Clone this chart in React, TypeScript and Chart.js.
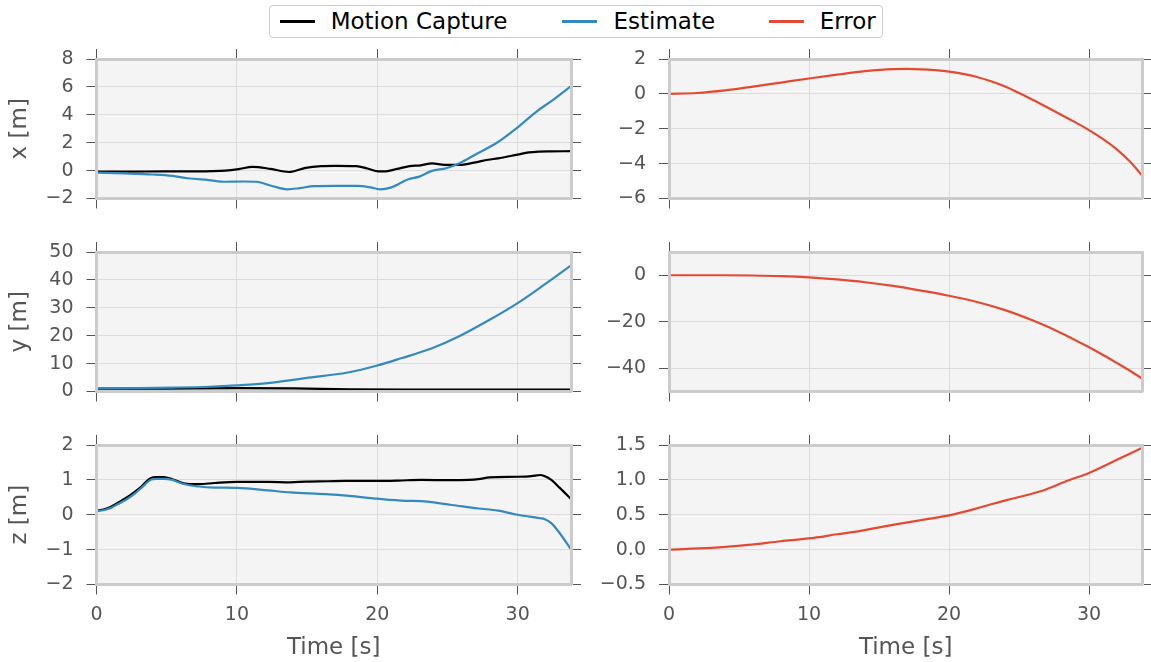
import React, { useEffect, useRef } from 'react';
import { Chart, registerables } from 'chart.js';

Chart.register(...registerables);

const FONT = "'DejaVu Sans', 'Liberation Sans', sans-serif";

// ---- time axis ----
const TIME_MIN = 0;
const TIME_MAX = 33.8;
const timeTicks = [0, 10, 20, 30];

// ---- x position ----
const xMocapT = [0, 2, 5, 7, 9.2, 10.2, 11.1, 12.4, 13.7, 14.9, 16, 17, 18.5, 19.3, 20.1, 20.6, 21.4, 22.3, 23.1, 23.9, 24.8, 25.8, 26.9, 27.9, 28.6, 30, 30.8, 31.5, 32.3, 33.8];
const xMocap = [-0.07, -0.08, -0.05, -0.05, 0.0, 0.12, 0.27, 0.12, -0.1, 0.2, 0.32, 0.34, 0.32, 0.15, -0.05, -0.05, 0.12, 0.32, 0.38, 0.52, 0.41, 0.41, 0.57, 0.78, 0.88, 1.15, 1.3, 1.36, 1.38, 1.39];
const xEstT = [0, 2, 4, 5.4, 6.5, 8, 9.2, 10.5, 11.4, 12.5, 13.6, 14.5, 15.5, 17, 18.5, 19.5, 20.2, 21, 22.2, 23, 23.9, 24.9, 25.9, 26.9, 28.6, 30, 31.3, 32.5, 33.8];
const xEst = [-0.14, -0.2, -0.28, -0.38, -0.55, -0.68, -0.8, -0.78, -0.8, -1.1, -1.34, -1.25, -1.12, -1.1, -1.1, -1.2, -1.34, -1.2, -0.62, -0.43, -0.02, 0.17, 0.55, 1.1, 2.05, 3.1, 4.2, 5.05, 6.05];
const xErrT = [0, 2, 4, 6, 8, 10, 12, 14, 16, 17, 18, 19, 20, 21, 22, 23, 24, 25, 26, 27, 28, 29, 30, 31, 32, 33, 33.8];
const xErr = [0, 0.05, 0.2, 0.42, 0.65, 0.88, 1.1, 1.3, 1.42, 1.43, 1.41, 1.36, 1.28, 1.15, 0.97, 0.72, 0.42, 0.05, -0.35, -0.77, -1.2, -1.62, -2.08, -2.6, -3.2, -3.95, -4.7];
const xPosTicks = [-2, 0, 2, 4, 6, 8];
const xErrTicks = [-6, -4, -2, 0, 2];

// ---- y position ----
const yMocapT = [0, 5, 10, 14, 18, 22, 33.8];
const yMocap = [1.0, 1.05, 1.2, 1.1, 0.8, 0.7, 0.7];
const yEstT = [0, 3, 5.4, 8, 10, 12.2, 14.9, 17.9, 20, 21.7, 23.9, 25.8, 28, 30, 31.9, 33.8];
const yEst = [1.2, 1.25, 1.4, 1.7, 2.2, 3.0, 4.8, 6.8, 9.3, 11.9, 15.5, 19.7, 25.7, 31.7, 38.3, 45.2];
const yErrT = [0, 4, 6, 8, 10, 12, 14, 16, 18, 20, 22, 24, 26, 28, 30, 31, 32, 33, 33.8];
const yErr = [0, 0, -0.1, -0.35, -0.9, -1.8, -3.0, -4.6, -6.6, -8.8, -11.5, -15.0, -19.5, -24.8, -31.0, -34.3, -37.8, -41.4, -44.5];
const yPosTicks = [0, 10, 20, 30, 40, 50];
const yErrTicks = [-40, -20, 0];

// ---- z position ----
const zMocapT = [0, 0.5, 1, 1.5, 2.1, 2.7, 3.2, 3.85, 4.3, 4.8, 5.4, 5.8, 6.2, 6.7, 7.3, 8.4, 10, 12.2, 13.8, 14.9, 16.5, 17.7, 20, 21.5, 23.1, 25.3, 26.5, 27.2, 28, 30, 31, 31.6, 31.9, 32.4, 33, 33.8];
const zMocap = [0.12, 0.15, 0.22, 0.34, 0.48, 0.65, 0.81, 1.05, 1.08, 1.08, 1.02, 0.96, 0.9, 0.88, 0.88, 0.91, 0.94, 0.94, 0.93, 0.95, 0.96, 0.97, 0.97, 0.98, 1.0, 0.99, 1.0, 1.02, 1.07, 1.09, 1.11, 1.14, 1.11, 1.0, 0.77, 0.45];
const zEstT = [0, 0.5, 1, 1.5, 2.1, 2.7, 3.2, 3.85, 4.3, 4.8, 5.4, 5.8, 6.2, 7.3, 8.4, 10, 12.2, 13.8, 16.3, 18, 20, 22, 23.1, 25.3, 27.2, 28.6, 30, 31.6, 31.9, 32.4, 33, 33.8];
const zEst = [0.1, 0.13, 0.19, 0.3, 0.43, 0.6, 0.77, 1.0, 1.03, 1.03, 1.0, 0.94, 0.88, 0.81, 0.78, 0.77, 0.7, 0.64, 0.59, 0.54, 0.46, 0.4, 0.39, 0.28, 0.18, 0.12, 0.0, -0.1, -0.12, -0.24, -0.53, -0.99];
const zErrT = [0, 3, 5.65, 8, 10, 12, 13.7, 16.4, 18.5, 20, 21.8, 23, 24.5, 26.6, 28.5, 30, 31.8, 33.8];
const zErr = [0, 0.024, 0.067, 0.12, 0.16, 0.22, 0.27, 0.37, 0.44, 0.49, 0.58, 0.65, 0.73, 0.84, 0.99, 1.1, 1.27, 1.46];
const zPosTicks = [-2, -1, 0, 1, 2];
const zErrTicks = [-0.5, 0, 0.5, 1, 1.5];

// ---- legend ----
const legendLabels = ['Motion Capture', 'Estimate', 'Error'];

const C_MOCAP = '#000000';
const C_EST = '#348ABD';
const C_ERR = '#E24A33';
const legendColors = [C_MOCAP, C_EST, C_ERR];

type Series = { t: number[]; v: number[]; color: string; order: number };
type Panel = {
  row: number;
  col: number;
  yLabel?: string;
  yMin: number;
  yMax: number;
  yTicks: number[];
  dec: number;
  series: Series[];
};

const panels: Panel[] = [
  { row: 0, col: 0, yLabel: 'x [m]', yMin: -2, yMax: 8, yTicks: xPosTicks, dec: 0,
    series: [{ t: xMocapT, v: xMocap, color: C_MOCAP, order: 1 }, { t: xEstT, v: xEst, color: C_EST, order: 0 }] },
  { row: 0, col: 1, yMin: -6, yMax: 2, yTicks: xErrTicks, dec: 0,
    series: [{ t: xErrT, v: xErr, color: C_ERR, order: 0 }] },
  { row: 1, col: 0, yLabel: 'y [m]', yMin: 0, yMax: 50, yTicks: yPosTicks, dec: 0,
    series: [{ t: yMocapT, v: yMocap, color: C_MOCAP, order: 1 }, { t: yEstT, v: yEst, color: C_EST, order: 0 }] },
  { row: 1, col: 1, yMin: -50, yMax: 10, yTicks: yErrTicks, dec: 0,
    series: [{ t: yErrT, v: yErr, color: C_ERR, order: 0 }] },
  { row: 2, col: 0, yLabel: 'z [m]', yMin: -2, yMax: 2, yTicks: zPosTicks, dec: 0,
    series: [{ t: zMocapT, v: zMocap, color: C_MOCAP, order: 1 }, { t: zEstT, v: zEst, color: C_EST, order: 0 }] },
  { row: 2, col: 1, yMin: -0.5, yMax: 1.5, yTicks: zErrTicks, dec: 1,
    series: [{ t: zErrT, v: zErr, color: C_ERR, order: 0 }] },
];

// layout geometry
const colGeo = [
  { left: 0, width: 600, yW: 96.5, y2W: 12, padR: 17 },
  { left: 600, width: 551, yW: 69, y2W: 8.7, padR: 0 },
];
const rowGeo = [
  { top: 39, height: 180, x2H: 20, xH: 20.5, labels: false },
  { top: 232, height: 180, x2H: 20, xH: 20.5, labels: false },
  { top: 425, height: 237, x2H: 20, xH: 77.5, labels: true },
];

const TICK_FONT = { family: FONT, size: 19 };
const LABEL_FONT = { family: FONT, size: 23 };
const TEXT_COLOR = '#555555';

const fmt = (v: number, d: number) => (v < 0 ? '\u2212' : '') + Math.abs(v).toFixed(d);
const setTicks = (vals: number[]) => (scale: any) => {
  scale.ticks = vals.map((v) => ({ value: v }));
};
const fixSize = (dim: 'width' | 'height', size: number) => (s: any) => {
  s[dim] = size;
  s.paddingTop = 0;
  s.paddingBottom = 0;
  s.paddingLeft = 0;
  s.paddingRight = 0;
};

const gridBase = {
  color: '#dcdcdc',
  lineWidth: 1,
  tickColor: '#555555',
  tickLength: 10,
  tickWidth: 1,
  drawTicks: true,
};
const borderBase = { display: true, color: '#cccccc', width: 3, z: 1 };

const plotBg = {
  id: 'plotBg',
  beforeDraw(chart: any) {
    const { ctx, chartArea: a } = chart;
    if (!a) return;
    ctx.save();
    ctx.fillStyle = '#f4f4f4';
    ctx.fillRect(a.left, a.top, a.right - a.left, a.bottom - a.top);
    ctx.restore();
  },
};

function PanelChart({ p }: { p: Panel }) {
  const ref = useRef<HTMLCanvasElement>(null);
  const cg = colGeo[p.col];
  const rg = rowGeo[p.row];

  useEffect(() => {
    if (!ref.current) return;
    const chart = new Chart(ref.current, {
      type: 'line',
      data: {
        datasets: p.series.map((s) => ({
          data: s.t.map((t, i) => ({ x: t, y: s.v[i] })),
          borderColor: s.color,
          backgroundColor: s.color,
          borderWidth: 2.2,
          pointRadius: 0,
          pointHoverRadius: 0,
          pointHitRadius: 0,
          fill: false,
          cubicInterpolationMode: 'monotone' as const,
          order: s.order,
          xAxisID: 'x',
          yAxisID: 'y',
        })),
      },
      options: {
        animation: false,
        responsive: false,
        devicePixelRatio: 1,
        events: [],
        layout: { autoPadding: false, padding: { left: 0, right: cg.padR, top: 0, bottom: 0 } },
        plugins: { legend: { display: false }, tooltip: { enabled: false } },
        scales: {
          x: {
            type: 'linear',
            position: 'bottom',
            min: TIME_MIN,
            max: TIME_MAX,
            afterBuildTicks: setTicks(timeTicks),
            afterFit: fixSize('height', rg.xH),
            ticks: {
              display: rg.labels,
              autoSkip: false,
              maxRotation: 0,
              font: TICK_FONT,
              color: TEXT_COLOR,
              padding: 9,
              callback: (v: any) => fmt(Number(v), 0),
            },
            grid: gridBase,
            border: borderBase,
            title: {
              display: rg.labels,
              text: 'Time [s]',
              font: LABEL_FONT,
              color: TEXT_COLOR,
              padding: { top: 0, bottom: 0 },
            },
          },
          x2: {
            type: 'linear',
            position: 'top',
            min: TIME_MIN,
            max: TIME_MAX,
            afterBuildTicks: setTicks(timeTicks),
            afterFit: fixSize('height', rg.x2H),
            ticks: { display: false },
            grid: { ...gridBase, drawOnChartArea: false },
            border: borderBase,
          },
          y: {
            type: 'linear',
            position: 'left',
            min: p.yMin,
            max: p.yMax,
            afterBuildTicks: setTicks(p.yTicks),
            afterFit: fixSize('width', cg.yW),
            ticks: {
              autoSkip: false,
              font: TICK_FONT,
              color: TEXT_COLOR,
              padding: 13,
              callback: (v: any) => fmt(Number(v), p.dec),
            },
            grid: gridBase,
            border: borderBase,
            title: {
              display: !!p.yLabel,
              text: p.yLabel || '',
              font: LABEL_FONT,
              color: TEXT_COLOR,
              padding: { top: 6.4, bottom: 0 },
            },
          },
          y2: {
            type: 'linear',
            position: 'right',
            min: p.yMin,
            max: p.yMax,
            afterBuildTicks: setTicks(p.yTicks),
            afterFit: fixSize('width', cg.y2W),
            ticks: { display: false },
            grid: { ...gridBase, drawOnChartArea: false },
            border: borderBase,
          },
        },
      } as any,
      plugins: [plotBg],
    });
    return () => chart.destroy();
  }, []);

  return (
    <canvas
      ref={ref}
      width={cg.width}
      height={rg.height}
      style={{ position: 'absolute', left: cg.left, top: rg.top, width: cg.width, height: rg.height }}
    />
  );
}

const legendLinePos = [280, 562, 769];
const legendTextPos = [330.7, 613.5, 819.7];

function Legend() {
  return (
    <div>
      <div
        style={{
          position: 'absolute',
          left: 269,
          top: 5,
          width: 614,
          height: 33,
          boxSizing: 'border-box',
          border: '1.5px solid #cccccc',
          borderRadius: 4,
          background: '#ffffff',
        }}
      />
      {legendLabels.map((lab, i) => (
        <React.Fragment key={lab}>
          <div
            style={{
              position: 'absolute',
              left: legendLinePos[i],
              top: 20,
              width: 35,
              height: 2.5,
              background: legendColors[i],
            }}
          />
          <div
            style={{
              position: 'absolute',
              left: legendTextPos[i],
              top: 6,
              height: 30,
              display: 'flex',
              alignItems: 'center',
              fontFamily: FONT,
              fontSize: 23,
              color: '#000000',
              whiteSpace: 'nowrap',
            }}
          >
            {lab}
          </div>
        </React.Fragment>
      ))}
    </div>
  );
}

export default function App() {
  return (
    <div
      style={{
        position: 'absolute',
        left: 0,
        top: 0,
        width: 1151,
        height: 662,
        background: '#ffffff',
        overflow: 'hidden',
      }}
    >
      {panels.map((p, i) => (
        <PanelChart key={i} p={p} />
      ))}
      <Legend />
    </div>
  );
}
